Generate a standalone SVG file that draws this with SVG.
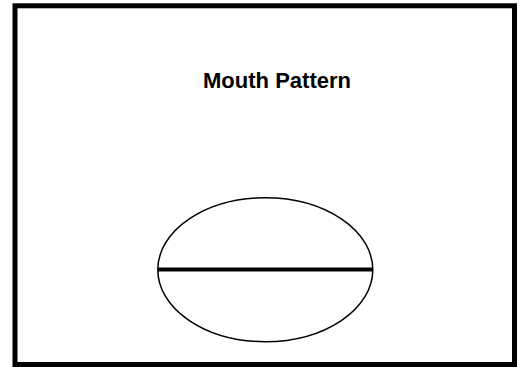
<svg xmlns="http://www.w3.org/2000/svg" width="526" height="367" viewBox="0 0 526 367">
<style>
.frame{fill:#fff;stroke:#000;stroke-width:5}
.shape{fill:none;stroke:#000;stroke-width:1.5}
.title{font-family:"Comic Sans MS","Liberation Sans",sans-serif;font-weight:bold;font-size:22px;fill:#000}
</style>
<rect x="0" y="0" width="526" height="367" fill="#fff"/>
<g id="frame"><rect class="frame" x="15" y="5.8" width="499.5" height="358.7"/></g>
<g id="title"><text class="title" x="277" y="87.5" text-anchor="middle" textLength="148" lengthAdjust="spacingAndGlyphs">Mouth Pattern</text></g>
<g id="mouth">
<ellipse class="shape" cx="265.3" cy="269.7" rx="107.5" ry="72"/>
<line x1="158" y1="269.5" x2="373" y2="269.5" stroke="#000" stroke-width="4"/>
</g>
</svg>
